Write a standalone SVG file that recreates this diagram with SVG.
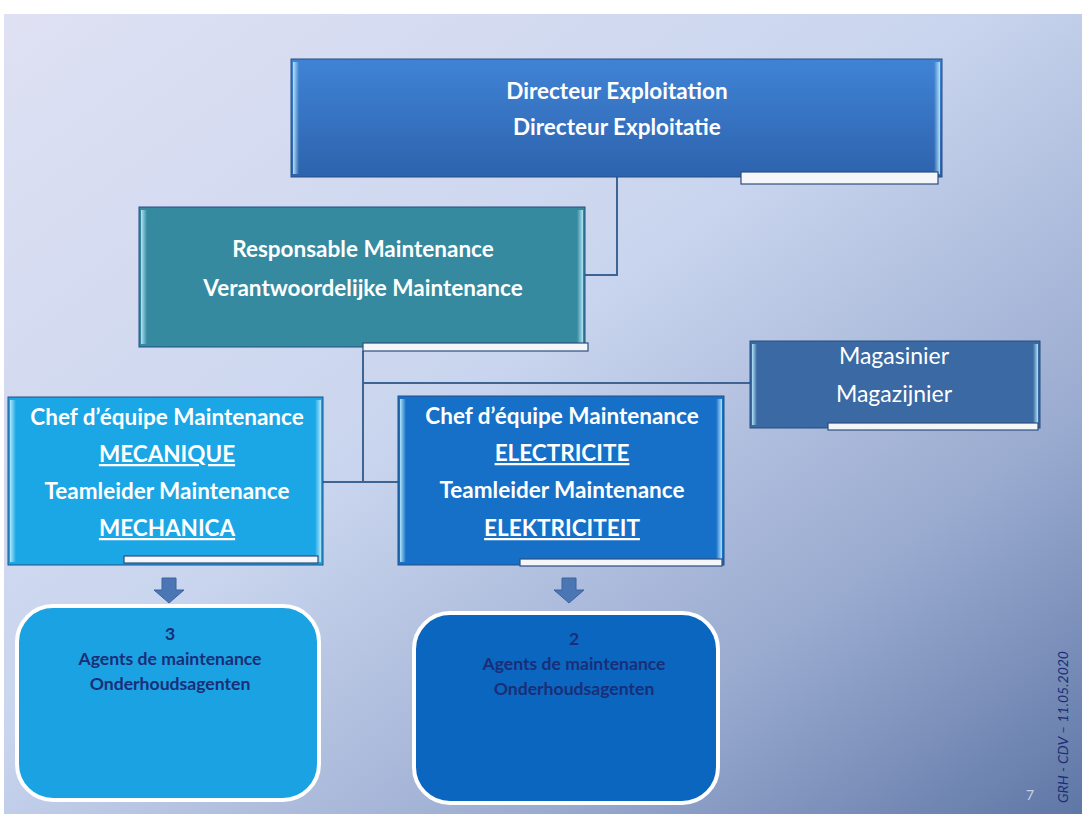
<svg xmlns="http://www.w3.org/2000/svg" width="1082" height="814" viewBox="0 0 1082 814">
<defs>
<linearGradient id="bg" x1="0" y1="0" x2="1" y2="1">
<stop offset="0" stop-color="#dfe1f3"/>
<stop offset="0.45" stop-color="#c9d5ee"/>
<stop offset="0.75" stop-color="#9aabd0"/>
<stop offset="1" stop-color="#5f77a6"/>
</linearGradient>
<linearGradient id="gDir" x1="0" y1="0" x2="0" y2="1">
<stop offset="0" stop-color="#4083d6"/>
<stop offset="1" stop-color="#2d63ad"/>
</linearGradient>
<linearGradient id="edge" x1="0" y1="0" x2="1" y2="0">
<stop offset="0" stop-color="#bfefff" stop-opacity="0.9"/>
<stop offset="1" stop-color="#bfefff" stop-opacity="0"/>
</linearGradient>
<linearGradient id="edgeR" x1="1" y1="0" x2="0" y2="0">
<stop offset="0" stop-color="#bfefff" stop-opacity="0.9"/>
<stop offset="1" stop-color="#bfefff" stop-opacity="0"/>
</linearGradient>
<style>
.box{stroke:#244e82;stroke-width:1}
.tab{fill:#f4f6fa;stroke:#2c4f7e;stroke-width:1.2}
.t{font-family:Lato,"Open Sans","Liberation Sans",sans-serif;font-weight:bold;font-size:22.5px;fill:#ffffff;text-anchor:middle}
.m{font-family:Lato,"Open Sans","Liberation Sans",sans-serif;font-size:23px;fill:#ffffff;text-anchor:middle}
.a{font-family:Lato,"Open Sans","Liberation Sans",sans-serif;font-weight:bold;font-size:17.6px;fill:#1a2e78;text-anchor:middle}
.u{text-decoration:underline}
.ln{stroke:#3e6494;stroke-width:2;fill:none}
.arr{fill:#4a76b4;stroke:#3b63a0;stroke-width:1}
.ag{stroke:#ffffff;stroke-width:4}
</style>
</defs>
<rect x="0" y="0" width="1082" height="814" fill="#ffffff"/>
<rect x="4" y="14" width="1078" height="800" fill="url(#bg)"/>

<g id="connectors">
<path class="ln" d="M617,177 V275 H585"/>
<path class="ln" d="M363,351 V482"/>
<path class="ln" d="M320,482 H398"/>
<path class="ln" d="M363,383 H750"/>
<path class="arr" d="M162,578 h14 v12 h8 l-15,13 l-15,-13 h8 z"/>
<path class="arr" d="M562,578 h14 v12 h8 l-15,13 l-15,-13 h8 z"/>
</g>

<g id="director">
<rect class="box" x="291" y="59" width="651" height="118" fill="url(#gDir)"/>
<rect x="293" y="62" width="6" height="112" fill="url(#edge)"/>
<rect x="934" y="62" width="6" height="112" fill="url(#edgeR)"/>
<rect class="tab" x="741" y="172" width="197" height="12"/>
<text class="t" x="617" y="99">Directeur Exploitation</text>
<text class="t" x="617" y="135">Directeur Exploitatie</text>
</g>

<g id="responsable">
<rect class="box" x="139" y="207" width="446" height="140" fill="#358a9f"/>
<rect x="141" y="210" width="6" height="134" fill="url(#edge)"/>
<rect x="577" y="210" width="6" height="134" fill="url(#edgeR)"/>
<rect class="tab" x="363" y="343" width="225" height="8"/>
<text class="t" x="363" y="257">Responsable Maintenance</text>
<text class="t" x="363" y="296">Verantwoordelijke Maintenance</text>
</g>

<g id="magasinier">
<rect class="box" x="750" y="341" width="290" height="87" fill="#3a69a3"/>
<rect x="752" y="344" width="5" height="81" fill="url(#edge)"/>
<rect x="1033" y="344" width="5" height="81" fill="url(#edgeR)"/>
<rect class="tab" x="828" y="423" width="210" height="7"/>
<text class="m" x="894" y="364">Magasinier</text>
<text class="m" x="894" y="402">Magazijnier</text>
</g>

<g id="mecanique">
<rect class="box" x="8" y="397" width="315" height="168" fill="#1ba6e6"/>
<rect x="10" y="400" width="6" height="162" fill="url(#edge)"/>
<rect x="315" y="400" width="6" height="162" fill="url(#edgeR)"/>
<rect class="tab" x="124" y="556" width="194" height="7"/>
<text class="t" x="167" y="425">Chef d’équipe Maintenance</text>
<text class="t u" x="167" y="462">MECANIQUE</text>
<text class="t" x="167" y="499">Teamleider  Maintenance</text>
<text class="t u" x="167" y="536">MECHANICA</text>
</g>

<g id="electricite">
<rect class="box" x="398" y="396" width="326" height="169" fill="#1670c8"/>
<rect x="400" y="399" width="6" height="163" fill="url(#edge)"/>
<rect x="716" y="399" width="6" height="163" fill="url(#edgeR)"/>
<rect class="tab" x="520" y="559" width="202" height="7"/>
<text class="t" x="562" y="424">Chef d’équipe Maintenance</text>
<text class="t u" x="562" y="461">ELECTRICITE</text>
<text class="t" x="562" y="498">Teamleider Maintenance</text>
<text class="t u" x="562" y="536">ELEKTRICITEIT</text>
</g>

<g id="agents-meca">
<rect class="ag" x="17" y="606" width="302" height="194" rx="36" fill="#1ba2e2"/>
<text class="a" x="170" y="640">3</text>
<text class="a" x="170" y="665">Agents de maintenance</text>
<text class="a" x="170" y="690">Onderhoudsagenten</text>
</g>

<g id="agents-elec">
<rect class="ag" x="414" y="613" width="304" height="190" rx="36" fill="#0b66bf"/>
<text class="a" x="574" y="645">2</text>
<text class="a" x="574" y="670">Agents de maintenance</text>
<text class="a" x="574" y="695">Onderhoudsagenten</text>
</g>

<text x="1030" y="800" font-family="Lato,'Liberation Sans',sans-serif" font-size="14" fill="#c8cfe0" text-anchor="middle">7</text>
<text transform="translate(1068,727) rotate(-90)" font-family="Lato,'Liberation Sans',sans-serif" font-style="italic" font-size="14" fill="#1a2e78" text-anchor="middle">GRH - CDV – 11.05.2020</text>
</svg>
